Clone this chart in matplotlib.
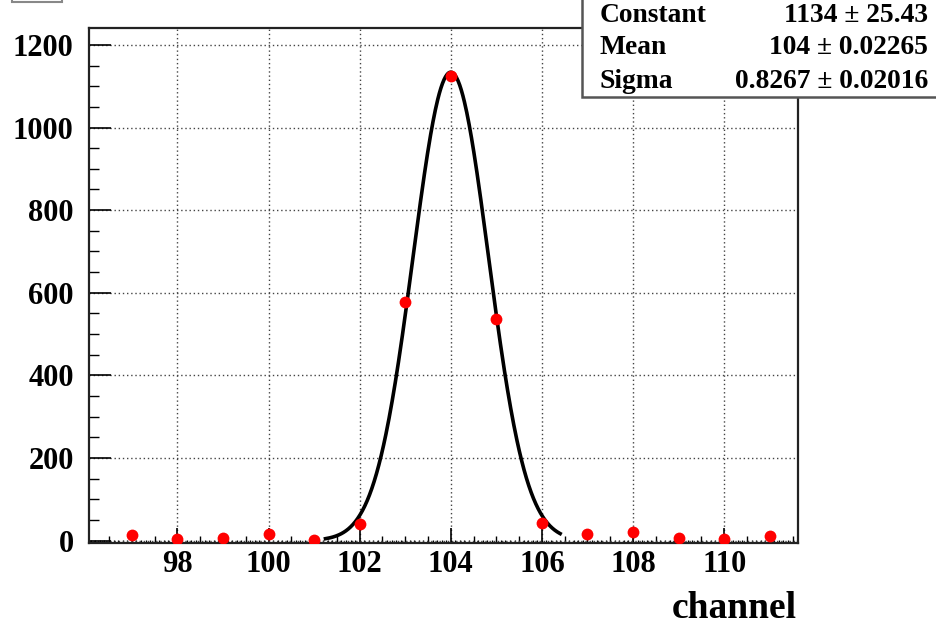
import numpy as np
import matplotlib
matplotlib.use("Agg")
import matplotlib.pyplot as plt
from matplotlib.patches import Rectangle
from matplotlib.ticker import MultipleLocator

# ---- data ----
channels = [97, 98, 99, 100, 101, 102, 103, 104, 105, 106, 107, 108, 109, 110, 111]
counts = [14, 3, 6, 15, 2, 40, 578, 1125, 537, 42, 16, 20, 7, 3, 10]
fit_constant = 1134.0
fit_mean = 104.0
fit_sigma = 0.8267
fit_range = (101.25, 106.4)
stat_names = ["Constant", "Mean", "Sigma"]
stat_values = ["1134 \u00b1 25.43", "104 \u00b1 0.02265", "0.8267 \u00b1 0.02016"]
x_label = "channel"

W, H = 937, 625
fig = plt.figure(figsize=(W / 100, H / 100), dpi=100)
serif = ["Liberation Serif", "DejaVu Serif"]

ax = fig.add_axes([89 / W, 1 - 543 / H, (798 - 89) / W, (543 - 28) / H])
ax.set_xlim(96.06, 111.62)
ax.set_ylim(-6, 1241)

ax.grid(True, which="major", linestyle=(0, (1, 2)), color="#444444", linewidth=1.0)
ax.set_axisbelow(True)

xf = np.linspace(fit_range[0], fit_range[1], 300)
yf = fit_constant * np.exp(-0.5 * ((xf - fit_mean) / fit_sigma) ** 2)
ax.plot(xf, yf, color="black", linewidth=2.6, zorder=3)
ax.plot(channels, counts, "o", color="#ff0000", markersize=8.5, markeredgewidth=0, zorder=4)

ax.xaxis.set_major_locator(MultipleLocator(2))
ax.xaxis.set_minor_locator(MultipleLocator(0.5))
ax.yaxis.set_major_locator(MultipleLocator(200))
ax.yaxis.set_minor_locator(MultipleLocator(50))
ax.tick_params(axis="x", which="major", direction="in", length=11, width=1.2, pad=5)
ax.tick_params(axis="x", which="minor", direction="in", length=5, width=1.0)
ax.tick_params(axis="y", which="major", direction="in", length=16, width=1.2, pad=11)
ax.tick_params(axis="y", which="minor", direction="in", length=7.5, width=1.0)

sec = ax.secondary_xaxis("bottom")
sec.xaxis.set_major_locator(MultipleLocator(0.1))
sec.tick_params(axis="x", which="major", direction="in", length=2.5, width=0.9,
                labelbottom=False)
for s in sec.spines.values():
    s.set_visible(False)

for lab in ax.get_xticklabels() + ax.get_yticklabels():
    lab.set_fontfamily(serif)
    lab.set_fontweight("bold")
    lab.set_fontsize(22)

for s in ax.spines.values():
    s.set_linewidth(1.6)
    s.set_color("#222222")

fig.text(797 / W, 1 - 608 / H, x_label, ha="right", va="center",
         fontsize=27, fontweight="bold", family=serif)

# stats box
fig.patches.append(Rectangle((582 / W, 1 - 97 / H), (945 - 582) / W, 110 / H,
                             transform=fig.transFigure, facecolor="white",
                             edgecolor="#555555", linewidth=1.8, zorder=5))
# title box remnant
fig.patches.append(Rectangle((12 / W, 1 - 1.5 / H), 50 / W, 10 / H,
                             transform=fig.transFigure, facecolor="white",
                             edgecolor="#888888", linewidth=1.5, zorder=5))

ys = [15, 48, 81]
for name, val, y in zip(stat_names, stat_values, ys):
    fig.text(600 / W, 1 - y / H, name, ha="left", va="center", fontsize=19.8,
             fontweight="bold", family=serif, zorder=6)
    fig.text(928 / W, 1 - y / H, val, ha="right", va="center", fontsize=19.8,
             fontweight="bold", family=serif, zorder=6)

fig.savefig("out.png", dpi=100)
